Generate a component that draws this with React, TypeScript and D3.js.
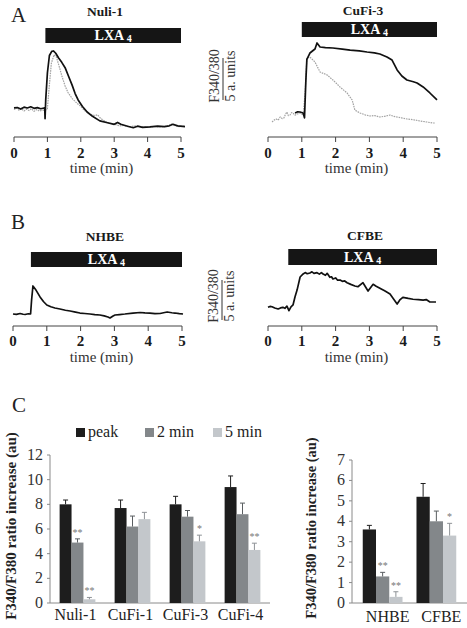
import React from 'react';
import * as d3 from 'd3';

// ---------- trace data (time in min, value in a.u. above panel floor) ----------
const timeTicks = [0, 1, 2, 3, 4, 5];

const nuliBlack: [number, number][] = [
  [0, 2.9], [0.1, 2.95], [0.2, 2.75], [0.3, 3.0], [0.4, 2.9], [0.5, 3.05], [0.6, 2.85], [0.7, 2.95],
  [0.8, 2.8], [0.9, 2.9], [0.92, 2.85], [0.93, 1.5], [0.95, 4.0], [1.0, 7.5], [1.06, 9.8], [1.13, 10.35],
  [1.18, 10.4], [1.25, 10.1], [1.33, 9.5], [1.43, 8.9], [1.53, 8.2], [1.63, 7.1], [1.74, 5.9], [1.83, 4.8],
  [1.92, 3.95], [2.05, 3.1], [2.19, 2.37], [2.35, 1.8], [2.57, 1.2], [2.8, 0.95], [3.0, 0.75], [3.1, 1.0],
  [3.2, 0.75], [3.4, 0.5], [3.57, 0.3], [3.7, 0.5], [3.85, 0.35], [4.07, 0.4], [4.3, 0.5], [4.5, 0.45],
  [4.65, 0.55], [4.76, 0.75], [4.9, 0.55], [5.12, 0.45],
];
const nuliGray: [number, number][] = [
  [0, 2.7], [0.08, 2.9], [0.15, 2.6], [0.22, 2.8], [0.3, 2.5], [0.38, 2.75], [0.45, 2.55], [0.52, 2.8],
  [0.6, 2.45], [0.68, 2.7], [0.76, 2.5], [0.85, 2.6], [0.95, 2.65], [1.0, 2.8], [1.05, 5.5], [1.12, 8.8],
  [1.2, 9.9], [1.27, 9.6], [1.35, 8.4], [1.44, 7.0], [1.53, 5.8], [1.62, 4.9], [1.75, 4.1], [1.89, 3.5],
  [2.0, 3.1], [2.1, 2.6], [2.2, 2.3], [2.3, 2.05], [2.42, 1.9], [2.5, 2.0], [2.6, 1.5], [2.78, 1.0],
  [2.95, 0.8], [3.05, 0.7], [3.15, 0.55], [3.3, 0.6], [3.45, 0.4], [3.6, 0.55], [3.8, 0.45], [4.0, 0.35],
  [4.2, 0.45], [4.4, 0.4], [4.6, 0.5], [4.72, 0.8], [4.8, 0.6], [4.95, 0.45], [5.1, 0.5],
];
const cufi3Black: [number, number][] = [
  [0.8, 2.24], [0.88, 2.4], [0.95, 2.37], [1.04, 2.24], [1.08, 1.6], [1.12, 6.5], [1.15, 9.3], [1.24, 10.13],
  [1.39, 10.66], [1.45, 11.45], [1.54, 10.92], [1.7, 10.85], [1.92, 10.79], [2.2, 10.65], [2.43, 10.5],
  [2.7, 10.4], [2.93, 10.26], [3.15, 10.15], [3.31, 10.0], [3.52, 9.6], [3.67, 9.2], [3.82, 7.9], [3.96, 7.1],
  [4.11, 6.58], [4.3, 6.35], [4.41, 6.18], [4.59, 5.66], [4.79, 4.87], [5.0, 3.95],
];
const cufi3Gray: [number, number][] = [
  [0.12, 1.05], [0.18, 1.3], [0.24, 1.45], [0.3, 1.3], [0.36, 1.71], [0.42, 1.5], [0.47, 1.58], [0.52, 2.1],
  [0.56, 2.37], [0.6, 1.9], [0.65, 1.97], [0.7, 2.3], [0.74, 2.24], [0.8, 1.95], [0.86, 2.1], [0.95, 2.24],
  [1.04, 1.97], [1.1, 5.0], [1.15, 9.47], [1.24, 9.6], [1.39, 8.95], [1.54, 7.63], [1.75, 7.24], [1.92, 6.58],
  [2.13, 5.66], [2.34, 4.87], [2.49, 3.95], [2.57, 2.63], [2.72, 2.24], [2.87, 2.0], [3.02, 1.84], [3.15, 1.9],
  [3.31, 1.71], [3.45, 1.8], [3.61, 1.97], [3.72, 1.8], [3.82, 1.71], [3.95, 1.6], [4.11, 1.45], [4.3, 1.35],
  [4.5, 1.18], [4.7, 1.05], [4.88, 0.92], [4.94, 0.92],
];
const nhbeTrace: [number, number][] = [
  [0, 1.05], [0.1, 1.0], [0.21, 1.12], [0.3, 1.02], [0.36, 0.99], [0.45, 1.08], [0.52, 1.05], [0.55, 2.9],
  [0.59, 4.74], [0.68, 4.2], [0.8, 3.3], [0.9, 2.7], [1.0, 2.24], [1.12, 2.0], [1.24, 1.84], [1.39, 1.71],
  [1.55, 1.55], [1.69, 1.45], [1.85, 1.3], [1.98, 1.18], [2.12, 1.12], [2.28, 1.05], [2.42, 0.98], [2.57, 0.92],
  [2.7, 0.8], [2.81, 0.66], [2.87, 0.53], [2.96, 0.79], [3.02, 0.92], [3.15, 0.98], [3.31, 1.05], [3.55, 1.18],
  [3.76, 1.25], [3.9, 1.2], [4.05, 1.18], [4.2, 1.1], [4.35, 1.12], [4.56, 1.32], [4.7, 1.22], [4.79, 1.18],
  [4.92, 1.1], [5.03, 1.05],
];
const cfbeTrace: [number, number][] = [
  [0, 1.93], [0.06, 2.05], [0.12, 2.01], [0.2, 1.85], [0.3, 1.71], [0.37, 1.85], [0.44, 1.93], [0.5, 1.8],
  [0.56, 2.1], [0.62, 1.49], [0.68, 2.0], [0.74, 2.24], [0.8, 3.33], [0.86, 4.2], [0.95, 5.92], [1.04, 6.32],
  [1.1, 6.5], [1.16, 6.35], [1.24, 6.45], [1.3, 6.6], [1.36, 6.4], [1.45, 6.49], [1.52, 6.3], [1.58, 6.5],
  [1.63, 6.32], [1.7, 6.15], [1.75, 6.41], [1.83, 5.88], [1.88, 5.95], [1.92, 5.66], [2.0, 5.8], [2.06, 5.5],
  [2.13, 5.53], [2.2, 5.35], [2.27, 5.4], [2.34, 5.17], [2.45, 4.95], [2.57, 4.74], [2.66, 4.64], [2.81, 5.17],
  [2.96, 4.08], [3.11, 4.96], [3.2, 4.7], [3.31, 4.43], [3.45, 4.1], [3.61, 3.68], [3.72, 3.0], [3.82, 2.37],
  [3.9, 2.9], [3.99, 3.25], [4.15, 3.1], [4.29, 2.99], [4.45, 2.95], [4.59, 2.89], [4.68, 2.95], [4.79, 2.63],
  [4.97, 2.63],
];

// ---------- bar data ----------
const seriesNames = ['peak', '2 min', '5 min'];
const seriesColors = ['#1d1d1d', '#83878a', '#c3c7cb'];
const errColors = ['#1d1d1d', '#5a5e61', '#8e9296'];

const leftCategories = ['Nuli-1', 'CuFi-1', 'CuFi-3', 'CuFi-4'];
const leftPeak = [8.0, 7.7, 8.0, 9.4];
const leftPeakErr = [0.35, 0.65, 0.65, 0.9];
const left2min = [4.9, 6.2, 7.0, 7.2];
const left2minErr = [0.3, 0.85, 0.5, 0.9];
const left5min = [0.3, 6.8, 5.0, 4.3];
const left5minErr = [0.15, 0.55, 0.5, 0.55];
const leftStars = [['', '', '', ''], ['**', '', '', ''], ['**', '', '*', '**']];
const leftTicks = [0, 2, 4, 6, 8, 10, 12];

const rightCategories = ['NHBE', 'CFBE'];
const rightPeak = [3.6, 5.2];
const rightPeakErr = [0.2, 0.65];
const right2min = [1.3, 4.0];
const right2minErr = [0.2, 0.5];
const right5min = [0.3, 3.3];
const right5minErr = [0.25, 0.6];
const rightStars = [['', ''], ['**', ''], ['**', '*']];
const rightTicks = [0, 1, 2, 3, 4, 5, 6, 7];

const SERIF = "'Liberation Serif', 'Times New Roman', 'DejaVu Serif', serif";
const PX_PER_AU = 7.6;

const txt = (size: number, bold = false, fill = '#222'): React.CSSProperties => ({
  fontFamily: SERIF, fontSize: size, fontWeight: bold ? 700 : 400, fill,
});

type TraceSpec = { data: [number, number][]; gray?: boolean };

function TracePanel(props: {
  x0: number; x1: number; axisY: number; floorY: number; title: string; titleX: number; titleY: number;
  stimStart: number; barY: number; barH: number; traces: TraceSpec[]; tickLabelY: number; timeLabelY: number;
}) {
  const { x0, x1, axisY, floorY, title, titleX, titleY, stimStart, barY, barH, traces, tickLabelY, timeLabelY } = props;
  const x = d3.scaleLinear().domain([0, 5]).range([x0, x1]);
  const y = d3.scaleLinear().domain([0, 12]).range([floorY, floorY - 12 * PX_PER_AU]);
  const line = d3.line<[number, number]>().x(d => x(d[0])).y(d => y(d[1])).curve(d3.curveLinear);
  const bx0 = x(stimStart);
  const bx1 = x(5);
  return (
    <g>
      <text x={titleX} y={titleY} textAnchor="middle" style={txt(13.5, true, '#1a1a1a')}>{title}</text>
      <rect x={bx0} y={barY} width={bx1 - bx0} height={barH} fill="#151515" />
      <text x={(bx0 + bx1) / 2} y={barY + barH / 2 + 4.5} textAnchor="middle" style={txt(14, true, '#fff')}>
        LXA <tspan style={{ fontSize: 10 }} dy={2}>4</tspan>
      </text>
      {traces.map((t, i) => (
        <path key={i} d={line(t.data) || ''} fill="none"
          stroke={t.gray ? '#a3a3a3' : '#111'} strokeWidth={t.gray ? 1.2 : 1.7}
          strokeDasharray={t.gray ? '1.6,0.9' : undefined} strokeLinejoin="round" />
      ))}
      <line x1={x0} x2={x1} y1={axisY} y2={axisY} stroke="#444" strokeWidth={1} />
      {timeTicks.map(t => (
        <g key={t}>
          <line x1={x(t)} x2={x(t)} y1={axisY} y2={axisY + 5} stroke="#444" strokeWidth={1} />
          <text x={x(t)} y={tickLabelY} textAnchor="middle" style={txt(15, true, '#1a1a1a')}>{t}</text>
        </g>
      ))}
      <text x={x(2.5) + 4} y={timeLabelY} textAnchor="middle" style={txt(15, false, '#333')}>time (min)</text>
    </g>
  );
}

function ScaleBar(props: { cx: number; cy: number; lineTop: number; lineBottom: number }) {
  const { cx, cy, lineTop, lineBottom } = props;
  return (
    <g>
      <text transform={`translate(${cx - 3},${cy}) rotate(-90)`} textAnchor="middle" style={txt(14, false, '#333')}>F340/380</text>
      <line x1={cx + 1} x2={cx + 1} y1={lineTop} y2={lineBottom} stroke="#333" strokeWidth={1} />
      <text transform={`translate(${cx + 13},${cy}) rotate(-90)`} textAnchor="middle" style={txt(14, false, '#333')}>5 a. units</text>
    </g>
  );
}

function BarChart(props: {
  categories: string[]; values: number[][]; errors: number[][]; stars: string[][]; ticks: number[];
  xLeft: number; xRight: number; y0: number; yTop: number; maxV: number; labelDx: number;
  padInner: number; padOuter: number; labelY: number; ylabelX: number; ylabelY: number; ylabelSize: number;
}) {
  const { categories, values, errors, stars, ticks, xLeft, xRight, y0, yTop, maxV, labelDx, padInner, padOuter, labelY, ylabelX, ylabelY, ylabelSize } = props;
  const xb = d3.scaleBand<string>().domain(categories).range([xLeft, xRight]).paddingInner(padInner).paddingOuter(padOuter);
  const xs = d3.scaleBand<string>().domain(seriesNames).range([0, xb.bandwidth()]);
  const y = d3.scaleLinear().domain([0, maxV]).range([y0, yTop]);
  return (
    <g>
      <line x1={xLeft} x2={xLeft} y1={y(maxV)} y2={y0} stroke="#8a8a8a" strokeWidth={1} />
      <line x1={xLeft} x2={xRight} y1={y0} y2={y0} stroke="#8a8a8a" strokeWidth={1} />
      {ticks.map(t => (
        <g key={t}>
          <line x1={xLeft - 3} x2={xLeft} y1={y(t)} y2={y(t)} stroke="#8a8a8a" strokeWidth={1} />
          <text x={xLeft - 7} y={y(t) + 5} textAnchor="end" style={txt(16, false, '#333')}>{t}</text>
        </g>
      ))}
      {seriesNames.map((s, si) => categories.map((c, ci) => {
        const bx = (xb(c) || 0) + (xs(s) || 0);
        const bw = xs.bandwidth();
        const v = values[si][ci];
        const e = errors[si][ci];
        const cx = bx + bw / 2;
        return (
          <g key={s + c}>
            <rect x={bx} y={y(v)} width={bw} height={y0 - y(v)} fill={seriesColors[si]} />
            <line x1={cx} x2={cx} y1={y(v)} y2={y(v + e)} stroke={errColors[si]} strokeWidth={1} />
            <line x1={cx - 2.5} x2={cx + 2.5} y1={y(v + e)} y2={y(v + e)} stroke={errColors[si]} strokeWidth={1} />
            {stars[si][ci] ? (
              <text x={cx} y={y(v + e) - 3} textAnchor="middle" style={txt(10, false, '#777')}>{stars[si][ci]}</text>
            ) : null}
          </g>
        );
      }))}
      {categories.map(c => (
        <text key={c} x={(xb(c) || 0) + xb.bandwidth() / 2 + labelDx} y={labelY} textAnchor="middle" style={txt(16, false, '#222')}>{c}</text>
      ))}
      <text transform={`translate(${ylabelX},${ylabelY}) rotate(-90)`} textAnchor="middle" style={txt(ylabelSize, true, '#222')}>
        F340/F380 ratio increase (au)
      </text>
    </g>
  );
}

export default function App() {
  const legendX = [76, 145, 213];
  return (
    <svg width={467} height={628} style={{ position: 'fixed', left: 0, top: 0, background: '#fff' }}>
      <rect x={0} y={0} width={467} height={628} fill="#fff" />
      {/* Panel A */}
      <text x={11} y={22} style={txt(21, false, '#222')}>A</text>
      <TracePanel x0={14} x1={181} axisY={137} floorY={130} title="Nuli-1" titleX={105} titleY={16}
        stimStart={0.94} barY={28} barH={15} traces={[{ data: nuliGray, gray: true }, { data: nuliBlack }]}
        tickLabelY={158} timeLabelY={173} />
      <TracePanel x0={268} x1={437} axisY={137} floorY={130} title="CuFi-3" titleX={363} titleY={15}
        stimStart={1.0} barY={22} barH={15} traces={[{ data: cufi3Gray, gray: true }, { data: cufi3Black }]}
        tickLabelY={158} timeLabelY={173} />
      <ScaleBar cx={222} cy={76} lineTop={58} lineBottom={100} />

      {/* Panel B */}
      <text x={11} y={229} style={txt(21, false, '#222')}>B</text>
      <TracePanel x0={13} x1={182} axisY={326} floorY={322} title="NHBE" titleX={105} titleY={241}
        stimStart={0.53} barY={252} barH={15} traces={[{ data: nhbeTrace }]}
        tickLabelY={346} timeLabelY={362} />
      <TracePanel x0={268} x1={437} axisY={326} floorY={322} title="CFBE" titleX={365} titleY={240}
        stimStart={0.6} barY={249} barH={16} traces={[{ data: cfbeTrace }]}
        tickLabelY={346} timeLabelY={362} />
      <ScaleBar cx={221} cy={296} lineTop={280} lineBottom={320} />

      {/* Panel C */}
      <text x={12} y={412} style={txt(21, false, '#222')}>C</text>
      {seriesNames.map((s, i) => (
        <g key={s}>
          <rect x={legendX[i]} y={428} width={9} height={9} fill={seriesColors[i]} />
          <text x={legendX[i] + 12} y={437} style={txt(16, false, '#222')}>{s}</text>
        </g>
      ))}
      <BarChart categories={leftCategories}
        values={[leftPeak, left2min, left5min]} errors={[leftPeakErr, left2minErr, left5minErr]} stars={leftStars}
        ticks={leftTicks} xLeft={50} xRight={270} y0={603} yTop={455} maxV={12} labelDx={-2}
        padInner={0.35} padOuter={0.175} labelY={620} ylabelX={16} ylabelY={526} ylabelSize={15} />
      <BarChart categories={rightCategories}
        values={[rightPeak, right2min, right5min]} errors={[rightPeakErr, right2minErr, right5minErr]} stars={rightStars}
        ticks={rightTicks} xLeft={352} xRight={467} y0={603} yTop={460} maxV={7} labelDx={5}
        padInner={0.26} padOuter={0.2} labelY={622} ylabelX={316} ylabelY={528} ylabelSize={14.5} />
    </svg>
  );
}
